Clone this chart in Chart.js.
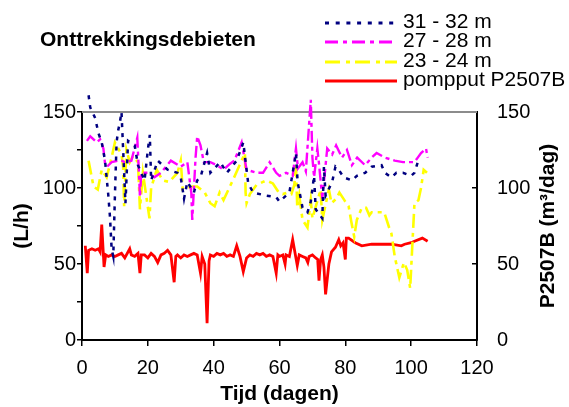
<!DOCTYPE html>
<html><head><meta charset="utf-8">
<script src="https://cdn.jsdelivr.net/npm/chart.js@4/dist/chart.umd.min.js"></script>
<style>html,body{margin:0;padding:0;background:#fff}#wrap{width:569px;height:407px;position:relative}</style>
</head><body><div id="wrap"><canvas id="c" width="569" height="407"></canvas></div>
<script>
const FONT = "'Liberation Sans', Arial, sans-serif";
const chartTitle = "Onttrekkingsdebieten";
const seriesNames = ["31 - 32 m", "27 - 28 m", "23 - 24 m", "pompput P2507B"];
const xTickStep = 20;

const days31 = [2,2.5,4,5,6,7,8,8.5,9,9.5,10,10.5,11,11.5,12,12.8,13.2,14,16,17,18,19,20,20.6,21,23,26,29,30,31,32,34,35,36,38,39,42,44,47,49,50.5,52,56,59,60,63,65,65.5,67,68.5,69.5,70.5,71,73,73.5,74,76,77,78,79.5,82,83.5,86,88,91,92,94,95.5,97.5,100,101,102,103];
const vals31 = [161,153,146,136,130,118,95,81,60,55,95,130,138,143,150,110,90,131,128,115,110,105,125,135,105,118,112,110,107,93,104,97,105,107,123,110,117,110,118,130,103,97,95,94,91,97,123,104,87,84,91,108,86,80,114,95,104,114,112,107,105,108,110,114,115,110,107,110,110,108,110,117,118];

const days27 = [1.5,2.5,4.5,5.5,6.5,7,7.6,9,11,12,13,15,16.8,17.4,17.6,18,20,22,24,27,30,32,33.2,33.5,34.5,35,36,37,39,41,43,45,46.3,48.5,50,53,55,57,59,60,62,64,65,65.6,67,68,69.5,70,70.5,71.5,72,73,74.5,76,77.2,79,80.5,82,83.6,86,88,89.5,92,95,97.5,101,102,103,104.5,105];
const vals27 = [131,134,130,132,126,116,114,117,118,118,117,118,133,105,94,110,110,107,110,118,114,117,97,79,120,134,128,117,117,115,112,116,118,130,112,110,110,117,110,108,110,108,126,113,117,111,158,120,107,126,116,93,126,122,128,120,125,115,120,115,120,123,120,118,117,117,120,123,126,120];

const days23 = [2,3.5,4.8,6,7.5,9,10,11,12,12.5,12.8,13.5,14.5,15.5,17,17.6,18.5,20.5,21,22.7,24.5,26.5,29,30,30.6,33.5,35,37.3,39,40.3,41.8,43,45.8,48.5,49.5,49.7,50,51,53,55,56,58,59.8,61,62.4,63.6,64.5,65,65.4,66,67,68.5,69.5,70,72.5,73,75,75.8,77.3,78.2,79.7,80.3,81,81.8,82.7,83.5,85,86.3,87.3,88,91.8,93.3,94,95,96.4,97.8,98.8,99.7,100.3,101,102.2,103,103.8,104.8];
const vals23 = [118,101,99,112,107,120,130,126,122,114,88,125,117,121,117,86,110,80,100,112,105,104,110,118,99,101,101,97,90,88,97,92,105,118,123,97,90,96,102,104,105,103,97,96,97,96,102,115,87,95,79,74,92,80,99,79,99,90,93,97,92,90,88,78,68,79,87,87,82,84,84,74,70,55,41,51,46,34,60,90,92,100,112,110];

const daysP = [1,1.6,2,3,4,5,5.5,6,6.7,7.2,8,9,10,11,12,13,14.5,15,16,17,17.6,18,19,20,21,22,23,24,25,26,27,28,28.5,29,30,31,32,33,34,35,36,36.5,37.3,38,38.6,39,40,41,42,43,44,45,46,47,48,49,50,51,52,53,54,55,56,57,58,59,59.5,60,61,61.7,62,63,64,65.4,66,67,68,68.6,69,70,71,71.6,72,72.5,73,73.5,74,75,75.8,77,78,78.6,79.3,80,80.3,81,83,85,88,91,94,97,98,100,101,103.4,105];
const valsP = [62,44,59,60,59,60,58,76,48,56,55,56,55,56,57,54,60,56,55,57,44,56,56,54,57,55,51,56,57,59,56,38,55,56,54,56,55,56,57,56,44,55,50,11,52,56,55,57,56,57,55,56,55,62,55,45,54,56,55,57,56,57,55,56,55,44,56,55,56,50,56,55,66,49,56,55,54,51,55,56,54,53,39,53,56,48,30,50,58,61,66,62,64,53,67,67,64,62,63,63,63,62,63,64,65,67,65];

const pts = (d, v) => d.map((x, i) => ({x, y: v[i]}));

const overlay = {
  id: 'overlay',
  beforeDatasetsDraw(chart) {
    const {ctx, chartArea: a} = chart;
    ctx.save();
    ctx.strokeStyle = '#8c8c8c'; ctx.lineWidth = 2;
    ctx.beginPath(); ctx.moveTo(a.left, a.top); ctx.lineTo(a.right, a.top); ctx.stroke();
    ctx.restore();
  },
  afterDraw(chart) {
    const {ctx, chartArea: a} = chart;
    ctx.save();
    ctx.fillStyle = '#000';
    ctx.font = "bold 21px " + FONT;
    ctx.textBaseline = 'middle'; ctx.textAlign = 'left';
    ctx.fillText(chartTitle, 40, 40);
    // legend
    const rows = [22, 41, 61, 80];
    chart.data.datasets.forEach((ds, i) => {
      const y = rows[i];
      ctx.strokeStyle = ds.borderColor;
      ctx.lineWidth = ds.legendWidth;
      ctx.setLineDash(ds.legendDash);
      ctx.beginPath(); ctx.moveTo(325, y + 1); ctx.lineTo(397, y + 1); ctx.stroke();
      ctx.setLineDash([]);
      ctx.font = "21px " + FONT;
      ctx.fillStyle = '#000';
      ctx.fillText(ds.label, 403, y);
    });
    // right axis title
    ctx.translate(548, (a.top + a.bottom) / 2);
    ctx.rotate(-Math.PI / 2);
    ctx.textAlign = 'center';
    ctx.font = "bold 21px " + FONT;
    ctx.fillText("P2507B (m³/dag)", 0, 0);
    ctx.restore();
  }
};

new Chart(document.getElementById('c'), {
  type: 'line',
  data: {
    datasets: [
      {label: seriesNames[0], data: pts(days31, vals31), yAxisID: 'y', borderColor: '#000080', borderWidth: 2.5, borderDash: [4, 6], legendDash: [4, 6.7], legendWidth: 3, clip: false},
      {label: seriesNames[1], data: pts(days27, vals27), yAxisID: 'y', borderColor: '#ff00ff', borderWidth: 2.4, borderDash: [12, 4, 4, 4], legendDash: [13, 5, 4, 5], legendWidth: 3, clip: false},
      {label: seriesNames[2], data: pts(days23, vals23), yAxisID: 'y', borderColor: '#ffff00', borderWidth: 2.6, borderDash: [14, 5, 4, 5], legendDash: [15, 6, 4, 5], legendWidth: 3, clip: false},
      {label: seriesNames[3], data: pts(daysP, valsP), yAxisID: 'y2', borderColor: '#ff0000', borderWidth: 2.8, borderDash: [], legendDash: [], legendWidth: 3, clip: false}
    ]
  },
  options: {
    responsive: false,
    animation: false,
    events: [],
    layout: {padding: {top: 112, left: 0, right: 0, bottom: 0}},
    elements: {point: {radius: 0}, line: {tension: 0}},
    plugins: {legend: {display: false}, title: {display: false}, tooltip: {enabled: false}},
    scales: {
      x: {
        type: 'linear', position: 'bottom', min: 0, max: 120,
        ticks: {stepSize: xTickStep, color: '#000', font: {family: FONT, size: 20}, padding: 10, maxRotation: 0},
        grid: {drawOnChartArea: false, color: '#000', tickLength: 6, lineWidth: 1.5},
        border: {color: '#000', width: 2},
        title: {display: true, text: 'Tijd (dagen)', color: '#000', font: {family: FONT, size: 21, weight: 'bold'}, padding: {top: 0, bottom: 0}},
        afterFit(s) { s.height = 67; }
      },
      y: {
        position: 'left', min: 0, max: 150,
        ticks: {stepSize: 25, color: '#000', font: {family: FONT, size: 20}, padding: 1, callback: v => (v % 50 === 0 ? String(v) : '')},
        grid: {drawOnChartArea: false, color: '#000', tickLength: 5, lineWidth: 1.5},
        border: {color: '#000', width: 2},
        title: {display: true, text: '(L/h)', color: '#000', font: {family: FONT, size: 21, weight: 'bold'}, padding: {top: 10, bottom: 0}},
        afterFit(s) { s.width = 82; }
      },
      y2: {
        position: 'right', min: 0, max: 150,
        ticks: {stepSize: 50, color: '#000', font: {family: FONT, size: 20}, padding: 25},
        grid: {drawOnChartArea: false, color: '#000', tickLength: -5, lineWidth: 1.5},
        border: {color: '#000', width: 2},
        afterFit(s) { s.width = 92; }
      }
    }
  },
  plugins: [overlay]
});
</script></body></html>
